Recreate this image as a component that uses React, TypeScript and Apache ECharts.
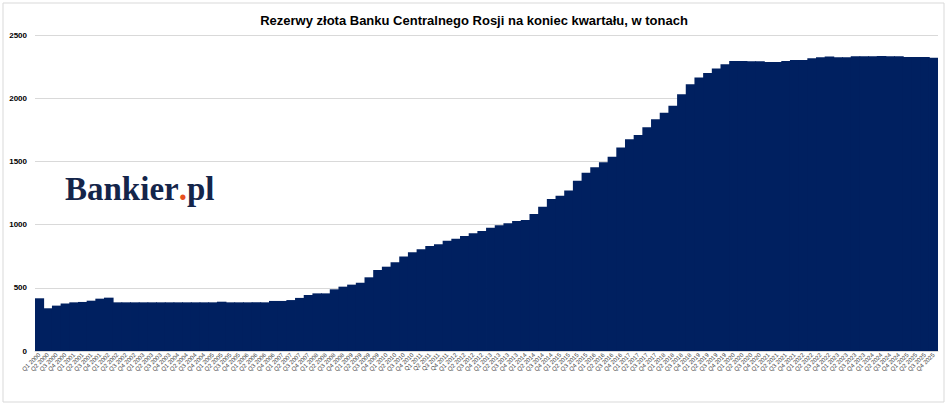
import * as echarts from "echarts";
import React, { useEffect, useRef } from "react";

// tonnes of gold at quarter end
const reserves2000_2004 = [
  417, 338, 359, 375,
  385, 388, 398, 414,
  422, 385, 385, 385,
  385, 385, 385, 385,
  385, 385, 385, 385,
];
const reserves2005_2009 = [
  385, 390, 385, 385,
  385, 385, 385, 396,
  396, 403, 420, 443,
  456, 456, 488, 509,
  525, 540, 583, 641,
];
const reserves2010_2014 = [
  667, 702, 747, 781,
  805, 831, 844, 873,
  888, 910, 931, 949,
  976, 995, 1010, 1028,
  1036, 1084, 1142, 1203,
];
const reserves2015_2019 = [
  1229, 1269, 1347, 1411,
  1453, 1493, 1537, 1609,
  1675, 1709, 1770, 1833,
  1885, 1941, 2032, 2110,
  2163, 2199, 2234, 2268,
];
const reserves2020_2025 = [
  2294, 2294, 2293, 2292,
  2286, 2286, 2294, 2302,
  2302, 2316, 2323, 2329,
  2324, 2324, 2331, 2331,
  2331, 2334, 2331, 2331,
  2326, 2326, 2326, 2321,
];

const years = [
  2000, 2001, 2002, 2003, 2004, 2005, 2006, 2007, 2008, 2009, 2010, 2011, 2012,
  2013, 2014, 2015, 2016, 2017, 2018, 2019, 2020, 2021, 2022, 2023, 2024, 2025,
];
const quarters = ["Q1", "Q2", "Q3", "Q4"];

const title = "Rezerwy złota Banku Centralnego Rosji na koniec kwartału, w tonach";

const App: React.FC = () => {
  const chartRef = useRef<HTMLDivElement>(null);

  useEffect(() => {
    if (!chartRef.current) return;
    const chart = echarts.init(chartRef.current, undefined, { renderer: "svg" });

    const categories: string[] = [];
    years.forEach((y) => quarters.forEach((q) => categories.push(q + " " + y)));
    const values = [
      ...reserves2000_2004,
      ...reserves2005_2009,
      ...reserves2010_2014,
      ...reserves2015_2019,
      ...reserves2020_2025,
    ];

    const option = {
      animation: false,
      backgroundColor: "#ffffff",
      title: {
        text: title,
        left: "center",
        top: 9,
        textStyle: {
          fontFamily: "Liberation Sans",
          fontSize: 13,
          fontWeight: "bold",
          color: "#000000",
        },
      },
      grid: { left: 35, right: 10, top: 35, bottom: 55 },
      xAxis: {
        type: "category",
        data: categories,
        axisLine: { show: true, lineStyle: { color: "#d9d9d9" } },
        axisTick: { show: false },
        axisLabel: {
          interval: 0,
          rotate: 45,
          fontSize: 6,
          margin: 3,
          color: "#404040",
          fontFamily: "Liberation Sans",
        },
      },
      yAxis: {
        type: "value",
        min: 0,
        max: 2500,
        interval: 500,
        axisLine: { show: false },
        axisTick: { show: false },
        splitLine: { lineStyle: { color: "#d9d9d9", width: 1 } },
        axisLabel: {
          fontSize: 8,
          fontWeight: "bold",
          color: "#000000",
          margin: 8,
          fontFamily: "Liberation Sans",
          formatter: (v: number) => String(v),
        },
      },
      series: [
        {
          type: "bar",
          data: values,
          barWidth: "110%",
          itemStyle: { color: "#002060" },
        },
      ],
      graphic: [
        {
          type: "rect",
          shape: { x: 3, y: 3, width: 941, height: 399 },
          style: { fill: "none", stroke: "#d9d9d9", lineWidth: 1 },
          silent: true,
        },
        {
          type: "text",
          x: 65,
          y: 205,
          style: {
            text: "{a|Bankier}{b|.}{a|pl}",
            textVerticalAlign: "bottom",
            rich: {
              a: {
                fontFamily: "Liberation Serif",
                fontSize: 33,
                fontWeight: "bold",
                fill: "#14254a",
                color: "#14254a",
              },
              b: {
                fontFamily: "Liberation Serif",
                fontSize: 33,
                fontWeight: "bold",
                fill: "#e8501e",
                color: "#e8501e",
              },
            },
          },
        },
      ],
    };

    chart.setOption(option);
    return () => {
      chart.dispose();
    };
  }, []);

  return (
    <div
      ref={chartRef}
      style={{ position: "fixed", left: 0, top: 0, width: "948px", height: "406px" }}
    ></div>
  );
};

export default App;
